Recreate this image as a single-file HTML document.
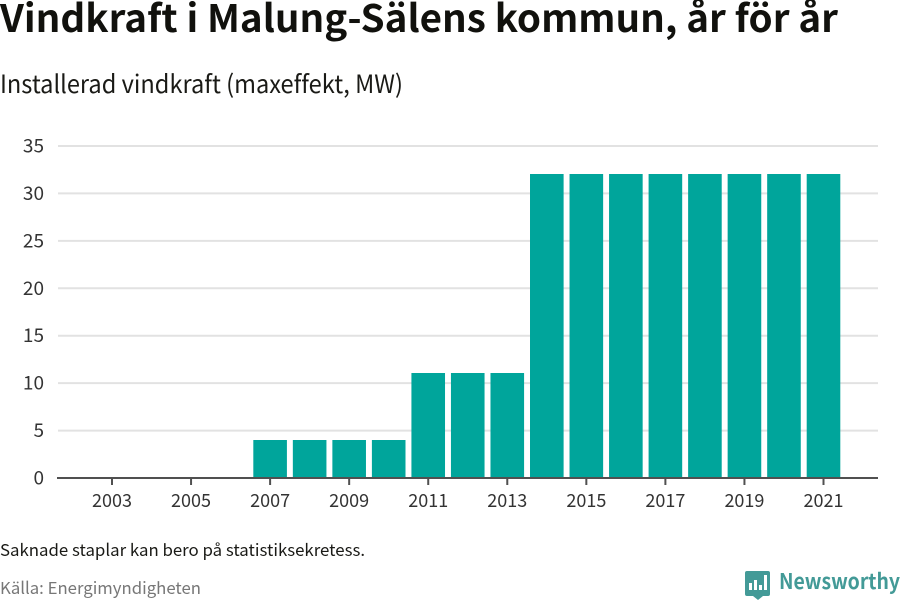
<!DOCTYPE html>
<html lang="sv">
<head>
<meta charset="utf-8">
<title>Vindkraft i Malung-Sälens kommun</title>
<style>
html,body{margin:0;padding:0;background:#fff;width:900px;height:600px;overflow:hidden}
svg{display:block}
text{font-family:"Noto Sans CJK SC","Liberation Sans",sans-serif;font-variant-ligatures:none}
</style>
</head>
<body>
<svg id="chart" width="900" height="600" viewBox="0 0 900 600" xmlns="http://www.w3.org/2000/svg">
  <text x="0" y="32" font-size="38" font-weight="700" fill="#11110d" textLength="838" lengthAdjust="spacingAndGlyphs">Vindkraft i Malung-Sälens kommun, år för år</text>
  <text x="0" y="93" font-size="25" fill="#1a1a16" textLength="403" lengthAdjust="spacingAndGlyphs">Installerad vindkraft (maxeffekt, MW)</text>
  <g id="grid"></g>
  <g id="bars"></g>
  <g id="yaxis"></g>
  <g id="xaxis"></g>
  <text x="0" y="556" font-size="16.5" fill="#1a1a16" textLength="365" lengthAdjust="spacingAndGlyphs">Saknade staplar kan bero på statistiksekretess.</text>
  <text x="0" y="594" font-size="16.5" fill="#777" textLength="201" lengthAdjust="spacingAndGlyphs">Källa: Energimyndigheten</text>
  <g>
    <path d="M747 571h21a2 2 0 0 1 2 2v21a2 2 0 0 1-2 2h-5l-5 4-5-4h-6a2 2 0 0 1-2-2v-21a2 2 0 0 1 2-2z" fill="#439a97"/>
    <rect x="749" y="583" width="3" height="7" fill="#fff"/>
    <rect x="754" y="580" width="3" height="10" fill="#fff"/>
    <rect x="759" y="585" width="3" height="5" fill="#fff"/>
    <rect x="764" y="575" width="3" height="15" fill="#fff"/>
    <text x="779" y="589" font-size="21.5" font-weight="700" fill="#439a97" textLength="121" lengthAdjust="spacingAndGlyphs">Newsworthy</text>
  </g>
</svg>
<script>
const years = [2003,2004,2005,2006,2007,2008,2009,2010,2011,2012,2013,2014,2015,2016,2017,2018,2019,2020,2021];
const capacityMW = [0,0,0,0,4,4,4,4,11,11,11,32,32,32,32,32,32,32,32];
const yTicks = [0,5,10,15,20,25,30,35];
const xTickLabels = [2003,2005,2007,2009,2011,2013,2015,2017,2019,2021];

const NS = 'http://www.w3.org/2000/svg';
const plot = {left:58, right:878, top:146, bottom:478};
const yMax = 35;
const step = (823.5 - 112) / 18;
const barWidth = 33.6;
function xScale(year){ return 112 + (year - years[0]) * step; }
function yScale(v){ return plot.bottom - (v / yMax) * (plot.bottom - plot.top); }
function make(tag, attrs, parent){
  const el = document.createElementNS(NS, tag);
  for (const k in attrs) el.setAttribute(k, attrs[k]);
  parent.appendChild(el);
  return el;
}
const grid = document.getElementById('grid');
const barsG = document.getElementById('bars');
const yaxis = document.getElementById('yaxis');
const xaxis = document.getElementById('xaxis');

yTicks.forEach(function(t){
  if (t !== 0) {
    const line = make('line', {x1:plot.left, x2:plot.right, y1:yScale(t), y2:yScale(t), stroke:'#e2e2e2', 'stroke-width':2}, grid);
    
    
  }
  const label = make('text', {x:44, y:yScale(t) + 6.5, 'text-anchor':'end', 'font-size':19, fill:'#333'}, yaxis);
  label.textContent = t;
  
  
});

years.forEach(function(y, i){
  const v = capacityMW[i];
  if (v <= 0) return;
  const top = Math.floor(yScale(v));
  const bar = make('rect', {x:xScale(y) - barWidth / 2, y:top, width:barWidth, height:yScale(0) - top, fill:'#00a59b'}, barsG);
  
  
});

const baseline = make('line', {x1:plot.left - 1, x2:plot.right, y1:plot.bottom, y2:plot.bottom, stroke:'#505050', 'stroke-width':2}, xaxis);



xTickLabels.forEach(function(y){
  const tick = make('line', {x1:xScale(y), x2:xScale(y), y1:plot.bottom, y2:plot.bottom + 7, stroke:'#505050', 'stroke-width':2}, xaxis);
  
  
  const label = make('text', {x:xScale(y), y:507, 'text-anchor':'middle', 'font-size':18.5, fill:'#333', textLength:40, lengthAdjust:'spacingAndGlyphs'}, xaxis);
  label.textContent = y;
  
  
});
</script>
</body>
</html>
